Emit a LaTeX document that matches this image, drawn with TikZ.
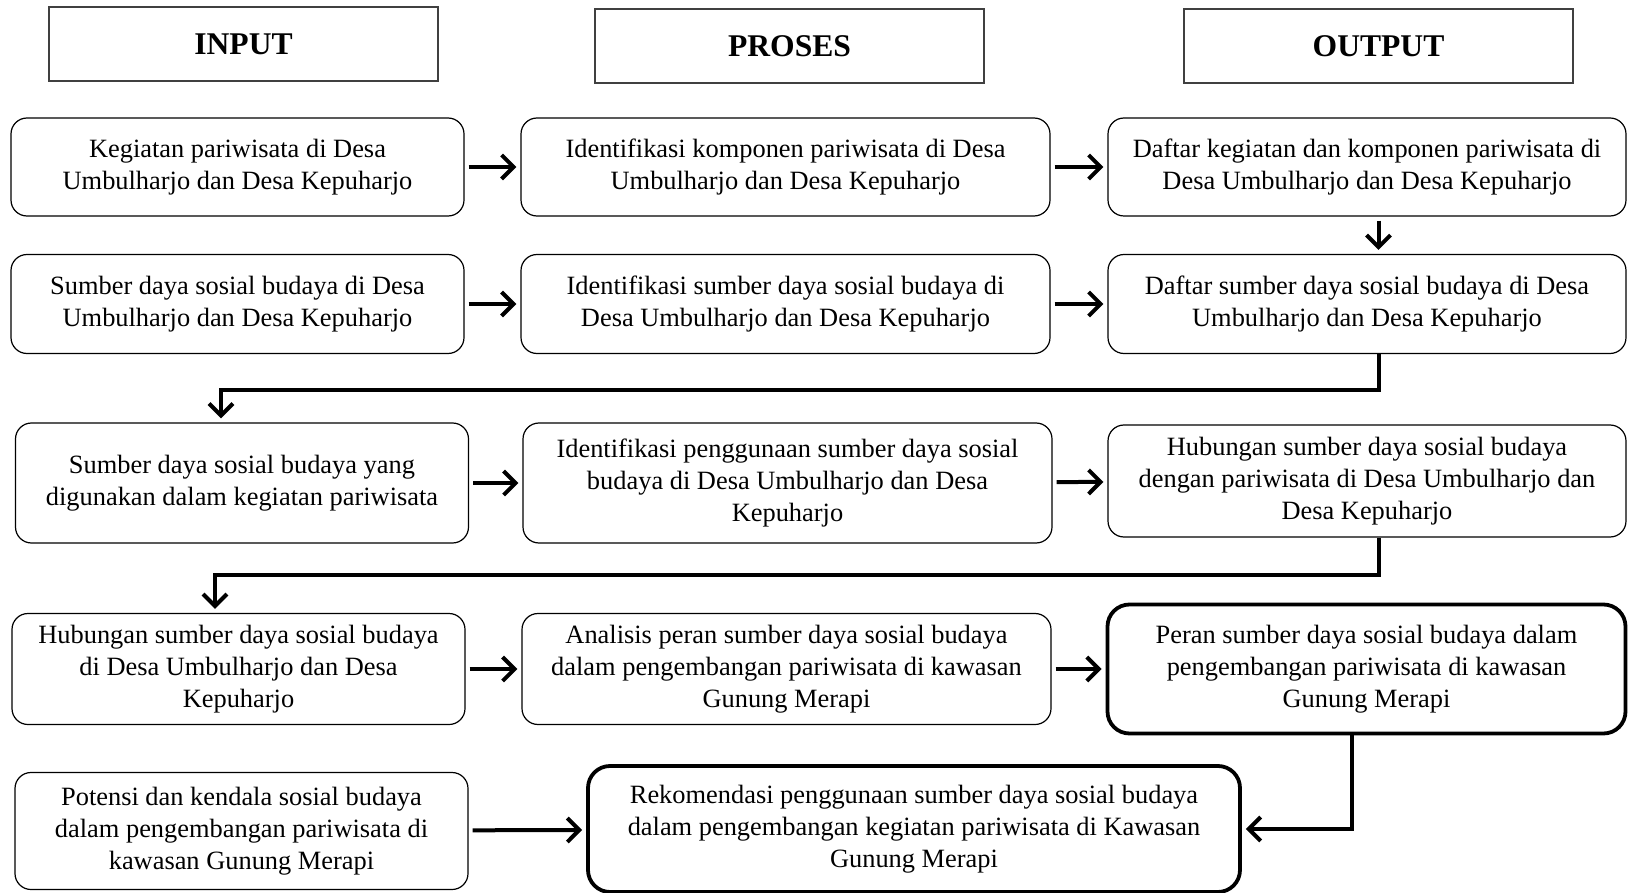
\documentclass[tikz,border=0pt]{standalone}
\usepackage{fontspec}
\setmainfont{Liberation Serif}
\usetikzlibrary{arrows.meta,calc,positioning}
\tikzset{kotak/.style={draw,rectangle,rounded corners=8pt,line width=0.6pt,align=center,inner sep=2pt,font=\fontsize{13.2}{16}\selectfont}}
\tikzset{panah/.style={->,line width=2pt}}
\tikzstyle{judul}=[draw=black!75,rectangle,line width=0.8pt,minimum width=194.5pt,minimum height=37pt,font=\fontsize{15.8}{18}\selectfont\bfseries]
\tikzstyle{tebal}=[kotak,line width=1.9pt,rounded corners=11pt]
\tikzstyle{kiri}=[minimum width=226.5pt]
\tikzstyle{tengah}=[minimum width=264.5pt]
\tikzstyle{kanan}=[minimum width=259pt]

\begin{document}
\begin{tikzpicture}[x=0.5pt,y=-0.5pt,>={Straight Barb[length=6pt,width=12pt]},shorten >=2pt,shorten <=2pt]
\useasboundingbox (0,0) rectangle (1628,893);
% judul kolom
\node[judul] (HI) at (243.5,44) {INPUT};
\node[judul] (HP) at (789.5,46) {PROSES};
\node[judul] (HO) at (1378.5,46) {OUTPUT};
% baris 1
\node[kotak,kiri,minimum height=49pt] (I1) at (237.5,167) {Kegiatan pariwisata di Desa\\Umbulharjo dan Desa Kepuharjo};
\node[kotak,tengah,minimum height=49pt] (P1) at (785.5,167) {Identifikasi komponen pariwisata di Desa\\Umbulharjo dan Desa Kepuharjo};
\node[kotak,kanan,minimum height=49pt] (O1) at (1367,167) {Daftar kegiatan dan komponen pariwisata di\\Desa Umbulharjo dan Desa Kepuharjo};
% baris 2
\node[kotak,kiri,minimum height=49.5pt] (I2) at (237.5,304) {Sumber daya sosial budaya di Desa\\Umbulharjo dan Desa Kepuharjo};
\node[kotak,tengah,minimum height=49.5pt] (P2) at (785.5,304) {Identifikasi sumber daya sosial budaya di\\Desa Umbulharjo dan Desa Kepuharjo};
\node[kotak,kanan,minimum height=49.5pt] (O2) at (1367,304) {Daftar sumber daya sosial budaya di Desa\\Umbulharjo dan Desa Kepuharjo};
% baris 3
\node[kotak,kiri,minimum height=60pt] (I3) at (242,483) {Sumber daya sosial budaya yang\\digunakan dalam kegiatan pariwisata};
\node[kotak,tengah,minimum height=60pt] (P3) at (787.5,483) {Identifikasi penggunaan sumber daya sosial\\budaya di Desa Umbulharjo dan Desa\\Kepuharjo};
\node[kotak,kanan,minimum height=56pt] (O3) at (1367,481) {Hubungan sumber daya sosial budaya\\dengan pariwisata di Desa Umbulharjo dan\\Desa Kepuharjo};
% baris 4
\node[kotak,kiri,minimum height=55.5pt] (I4) at (238.5,669) {Hubungan sumber daya sosial budaya\\di Desa Umbulharjo dan Desa\\Kepuharjo};
\node[kotak,tengah,minimum height=55.5pt] (P4) at (786.5,669) {Analisis peran sumber daya sosial budaya\\dalam pengembangan pariwisata di kawasan\\Gunung Merapi};
\node[tebal,kanan,minimum height=64.5pt] (O4) at (1366.5,669) {Peran sumber daya sosial budaya dalam\\pengembangan pariwisata di kawasan\\Gunung Merapi};
% baris 5
\node[kotak,kiri,minimum height=58.5pt] (I5) at (241.5,831) {Potensi dan kendala sosial budaya\\dalam pengembangan pariwisata di\\kawasan Gunung Merapi};
\node[tebal,minimum width=326pt,minimum height=63pt] (R) at (914,829) {Rekomendasi penggunaan sumber daya sosial budaya\\dalam pengembangan kegiatan pariwisata di Kawasan\\Gunung Merapi};
% titik belok
\coordinate (k1) at (221,390);
\coordinate (k2) at (215,575);
\coordinate (k3) at (1352,829);
\path[panah] (I1) edge (P1)
	(P1) edge (O1)
	(I2) edge (P2)
	(P2) edge (O2)
	(I3) edge (P3)
	(P3) edge (O3)
	(I4) edge (P4)
	(P4) edge (O4)
	(I5) edge (R);
\draw[panah] (O1.south -| HO) -- (O2.north -| HO);
\draw[panah,shorten <=0pt] (O2.south -| HO) |- (k1) -- (k1 |- I3.north);
\draw[panah,shorten <=0pt] (O3.south -| HO) |- (k2) -- (k2 |- I4.north);
\draw[panah,shorten <=0pt] (O4.south -| k3) -- (k3) -- (R.east);
\end{tikzpicture}
\end{document}
